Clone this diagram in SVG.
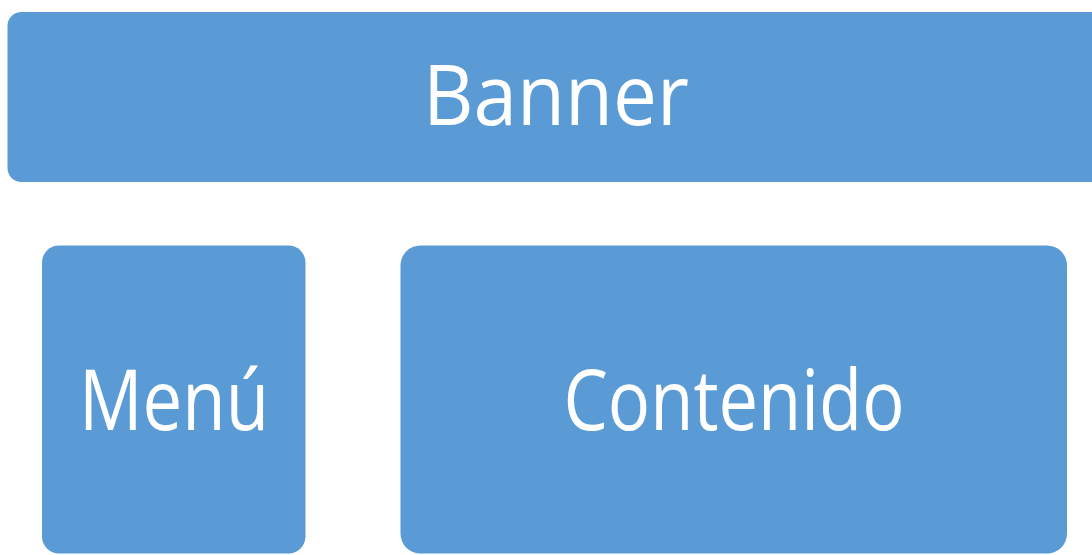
<svg xmlns="http://www.w3.org/2000/svg" width="1092" height="555" viewBox="0 0 1092 555">
<style>
.box{fill:#5B9BD5;}
.lbl{fill:#FFFFFF;font-family:"Open Sans","Liberation Sans",sans-serif;font-size:84px;text-anchor:middle;}
</style>
<rect width="1092" height="555" fill="#FFFFFF"/>
<g id="banner">
<rect class="box" x="7.5" y="12" width="1097" height="170" rx="14" ry="14"/>
<text class="lbl" x="556" y="125" textLength="266" lengthAdjust="spacingAndGlyphs">Banner</text>
</g>
<g id="menu">
<rect class="box" x="42" y="245.5" width="263.5" height="308" rx="17" ry="17"/>
<text class="lbl" x="174" y="430" textLength="190" lengthAdjust="spacingAndGlyphs">Menú</text>
</g>
<g id="contenido">
<rect class="box" x="400.5" y="245.5" width="666.5" height="308" rx="20" ry="20"/>
<text class="lbl" x="734" y="430" textLength="341" lengthAdjust="spacingAndGlyphs">Contenido</text>
</g>
<g id="connectors"></g>
</svg>
